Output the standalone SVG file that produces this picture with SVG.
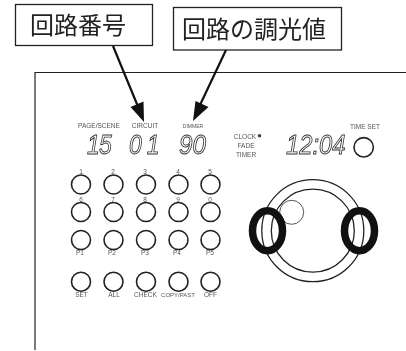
<svg xmlns="http://www.w3.org/2000/svg" width="406" height="351" viewBox="0 0 406 351">
<defs><filter id="soft" x="-20%" y="-20%" width="140%" height="140%"><feGaussianBlur stdDeviation=".25"/></filter></defs>
<style>
.box{fill:#fff;stroke:#222;stroke-width:1.3}
.jp{font-family:"Noto Sans CJK JP","Noto Sans",sans-serif;font-size:24px;fill:#222;filter:url(#soft)}
.lb{font-family:"Liberation Sans",Arial,sans-serif;font-size:6.5px;fill:#555;text-anchor:middle;filter:url(#soft)}
.btn{fill:none;stroke:#222;stroke-width:1.6}
.ring{fill:none;stroke:#222;stroke-width:1.3}
.blk{fill:none;stroke:#111;stroke-width:7.5}
.seg{font-family:"Liberation Sans",Arial,sans-serif;font-style:italic;font-size:27px;fill:#fff;stroke:#333;stroke-width:.9;filter:url(#soft)}
.conn{stroke:#111;stroke-width:2.2;fill:none}
.head{fill:#111}
</style>
<rect width="406" height="351" fill="#fff"/>
<path id="panel" d="M406 72.500H35V350" fill="none" stroke="#222" stroke-width="1.2"/>
<g id="label-circuit"><rect class="box" x="15.500" y="4.500" width="137" height="41"/><text class="jp" x="30" y="34">回路番号</text></g>
<g id="label-dimmer"><rect class="box" x="173.500" y="7.500" width="168" height="42.500"/><text class="jp" x="182" y="38">回路の調光値</text></g>
<g id="connectors">
<path class="conn" d="M113 46L139 109"/><path class="head" d="M144 122L130.500 107L143.500 101.500Z"/>
<path class="conn" d="M226 50L200 105"/><path class="head" d="M193 121L195.500 101L208.500 107Z"/>
</g>
<g id="display-page"><text class="seg" transform="translate(87 154) scale(.85 1)" letter-spacing="-1">15</text><text class="lb" x="99" y="128">PAGE/SCENE</text></g>
<g id="display-circuit"><text class="lb" x="145" y="128">CIRCUIT</text><text class="seg" transform="translate(129 154) scale(.85 1)" letter-spacing="6">01</text></g>
<g id="display-dimmer"><text class="lb" x="193" y="128" style="font-size:5px">DIMMER</text><text class="seg" transform="translate(179 154) scale(.9 1)">90</text></g>
<g id="status"><text class="lb" x="245" y="139">CLOCK</text><text class="lb" x="246" y="148">FADE</text><text class="lb" x="246" y="157">TIMER</text><circle cx="259.500" cy="135.700" r="1.800" fill="#444"/></g>
<g id="display-clock"><text class="seg" transform="translate(286 154) scale(.88 1)">12:04</text></g>
<g id="time-set"><text class="lb" x="365" y="129">TIME SET</text><circle class="btn" cx="363.700" cy="147.300" r="9.700"/></g>
<g id="buttons-1"><circle class="btn" cx="81" cy="184.500" r="9.500"/><circle class="btn" cx="113.500" cy="184.500" r="9.500"/><circle class="btn" cx="146" cy="184.500" r="9.500"/><circle class="btn" cx="178.500" cy="184.500" r="9.500"/><circle class="btn" cx="210.500" cy="184.500" r="9.500"/>
<text class="lb" x="81" y="174">1</text><text class="lb" x="113" y="174">2</text><text class="lb" x="145" y="174">3</text><text class="lb" x="178" y="174">4</text><text class="lb" x="210" y="174">5</text></g>
<g id="buttons-2"><circle class="btn" cx="81" cy="212" r="9.500"/><circle class="btn" cx="113.500" cy="212" r="9.500"/><circle class="btn" cx="146" cy="212" r="9.500"/><circle class="btn" cx="178.500" cy="212" r="9.500"/><circle class="btn" cx="210.500" cy="212" r="9.500"/>
<text class="lb" x="81" y="202">6</text><text class="lb" x="113" y="202">7</text><text class="lb" x="145" y="202">8</text><text class="lb" x="178" y="202">9</text><text class="lb" x="210" y="202">0</text></g>
<g id="buttons-3"><circle class="btn" cx="81" cy="240" r="9.500"/><circle class="btn" cx="113.500" cy="240" r="9.500"/><circle class="btn" cx="146" cy="240" r="9.500"/><circle class="btn" cx="178.500" cy="240" r="9.500"/><circle class="btn" cx="210.500" cy="240" r="9.500"/>
<text class="lb" x="80" y="255">P1</text><text class="lb" x="112" y="255">P2</text><text class="lb" x="145" y="255">P3</text><text class="lb" x="177" y="255">P4</text><text class="lb" x="210" y="255">P5</text></g>
<g id="buttons-4"><circle class="btn" cx="81" cy="281.700" r="9.500"/><circle class="btn" cx="113.500" cy="281.700" r="9.500"/><circle class="btn" cx="146" cy="281.700" r="9.500"/><circle class="btn" cx="178.500" cy="281.700" r="9.500"/><circle class="btn" cx="210.500" cy="281.700" r="9.500"/>
<text class="lb" x="81.500" y="297">SET</text><text class="lb" x="114" y="297">ALL</text><text class="lb" x="145.500" y="297">CHECK</text><text class="lb" x="178" y="297" style="font-size:6px">COPY/PAST</text><text class="lb" x="210.500" y="297">OFF</text></g>
<g id="dial">
<circle class="ring" cx="312.800" cy="230.700" r="51"/>
<circle class="ring" cx="312.800" cy="230.700" r="41.500"/>
<circle cx="291.700" cy="212.300" r="12" fill="none" stroke="#444" stroke-width=".9"/>
<ellipse class="blk" cx="267.500" cy="230.700" rx="15" ry="20"/>
<ellipse class="blk" cx="359.500" cy="230.700" rx="15" ry="20"/>
</g>
</svg>
